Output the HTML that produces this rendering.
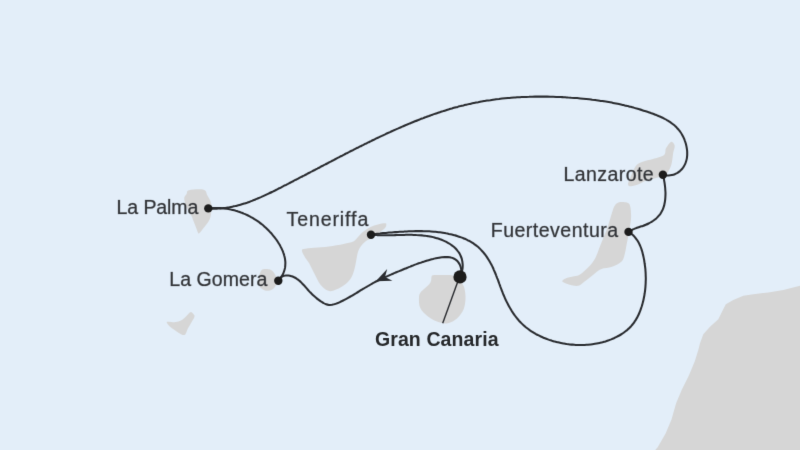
<!DOCTYPE html>
<html><head><meta charset="utf-8"><style>
html,body{margin:0;padding:0;width:800px;height:450px;overflow:hidden;background:#e3eef9;}
svg{display:block;will-change:transform;}
text{font-family:"Liberation Sans",sans-serif;fill:#323438;stroke:#323438;stroke-width:0.7px;stroke-opacity:0.4;paint-order:stroke fill;} text.b{fill:#26282b;stroke:none;}
</style></head><body>
<svg width="800" height="450" viewBox="0 0 800 450">
<defs><filter id="soft" color-interpolation-filters="sRGB" filterUnits="userSpaceOnUse" x="0" y="0" width="800" height="450"><feConvolveMatrix order="3" kernelMatrix="0 1 0 1 8 1 0 1 0" divisor="12" edgeMode="duplicate"/></filter></defs>
<g filter="url(#soft)">
<rect width="800" height="450" fill="#e3eef9"/>
<path d="M189.0,190.3 C191.8,189.6 200.6,188.9 203.7,189.7 C206.8,190.5 206.1,193.0 207.3,195.2 C208.5,197.3 210.3,200.3 211.0,202.6 C211.7,204.9 211.6,206.6 211.5,209.0 C211.4,211.4 211.1,214.8 210.4,217.2 C209.7,219.6 208.6,221.3 207.3,223.3 C206.0,225.3 203.7,227.8 202.4,229.4 C201.1,231.0 200.1,232.5 199.4,233.1 C198.7,233.7 198.7,233.9 198.2,233.1 C197.7,232.3 197.1,230.2 196.3,228.2 C195.5,226.2 194.3,223.0 193.5,221.0 C192.7,219.0 192.5,218.0 191.5,216.0 C190.5,214.0 188.7,211.8 187.5,209.0 C186.3,206.2 184.3,201.5 184.2,199.0 C184.0,196.5 185.8,195.4 186.6,194.0 C187.4,192.6 186.2,191.0 189.0,190.3Z" fill="#d6d6d6"/>
<path d="M263.3,269.3 C264.9,269.0 268.6,269.0 270.5,269.8 C272.4,270.6 273.8,272.3 274.9,274.2 C276.0,276.1 276.9,279.0 277.0,281.0 C277.1,283.0 276.3,284.6 275.5,286.0 C274.7,287.4 273.8,288.6 272.2,289.4 C270.6,290.2 268.1,291.1 266.0,290.7 C263.9,290.2 261.0,288.8 259.8,286.7 C258.6,284.6 258.8,280.3 258.9,277.8 C259.0,275.3 260.0,273.0 260.7,271.6 C261.4,270.2 261.7,269.6 263.3,269.3Z" fill="#d6d6d6"/>
<path d="M191.1,312.0 C192.0,312.2 193.7,314.2 194.2,315.1 C194.7,316.0 194.7,316.1 194.2,317.4 C193.7,318.7 192.1,321.1 191.1,322.9 C190.1,324.7 188.9,326.5 188.0,328.3 C187.1,330.1 186.3,332.7 185.7,333.8 C185.0,334.9 184.9,334.9 184.1,335.0 C183.3,335.1 182.4,334.9 181.0,334.2 C179.6,333.5 177.4,331.9 175.6,330.7 C173.8,329.5 171.5,328.1 170.1,326.8 C168.7,325.5 167.4,323.8 167.0,322.9 C166.6,322.0 166.4,321.8 167.8,321.7 C169.2,321.6 173.4,322.3 175.6,322.1 C177.8,321.9 179.3,321.5 181.0,320.6 C182.7,319.7 184.4,317.9 185.7,316.7 C187.0,315.5 187.9,314.4 188.8,313.6 C189.7,312.8 190.2,311.8 191.1,312.0Z" fill="#d6d6d6"/>
<path d="M385.1,223.2 C386.5,223.2 386.3,223.8 386.3,224.6 C386.3,225.4 386.3,226.6 385.0,228.0 C383.7,229.4 380.8,231.3 378.6,233.0 C376.4,234.7 374.0,236.7 372.0,238.0 C370.0,239.3 368.6,239.3 366.8,240.6 C365.1,241.8 362.9,243.8 361.5,245.5 C360.1,247.2 359.2,248.7 358.5,250.5 C357.8,252.3 357.6,253.2 357.0,256.2 C356.4,259.2 355.6,264.8 354.6,268.5 C353.6,272.2 352.7,275.3 350.9,278.2 C349.1,281.1 346.5,283.6 343.6,285.6 C340.8,287.7 336.5,289.7 333.8,290.5 C331.1,291.3 329.9,291.5 327.7,290.5 C325.4,289.5 322.6,287.3 320.3,284.4 C318.1,281.5 316.0,276.8 314.2,273.3 C312.4,269.8 310.9,266.5 309.3,263.6 C307.7,260.8 305.6,258.3 304.4,256.2 C303.2,254.1 302.1,252.2 302.0,251.0 C301.9,249.8 301.5,249.6 303.5,249.0 C305.5,248.4 310.0,248.1 314.2,247.7 C318.4,247.3 324.0,247.1 328.9,246.5 C333.8,245.9 339.5,244.8 343.6,244.0 C347.7,243.2 350.9,242.8 353.3,241.6 C355.7,240.4 356.6,238.3 358.2,236.7 C359.8,235.1 361.1,233.4 363.1,231.8 C365.2,230.2 368.1,228.1 370.5,226.9 C372.9,225.7 375.4,225.0 377.8,224.4 C380.2,223.8 383.7,223.2 385.1,223.2Z" fill="#d6d6d6"/>
<path d="M433.0,275.2 C434.9,274.9 439.8,275.0 443.0,275.0 C446.2,275.0 449.5,274.6 452.0,275.3 C454.5,276.0 456.2,277.6 458.0,279.0 C459.8,280.4 461.4,282.3 462.5,284.0 C463.6,285.7 464.1,286.5 464.6,289.0 C465.1,291.5 465.7,295.5 465.5,298.9 C465.3,302.3 464.9,306.2 463.5,309.5 C462.1,312.8 459.6,316.2 457.0,318.5 C454.4,320.8 451.0,322.6 448.0,323.2 C445.0,323.8 442.3,323.4 439.0,322.3 C435.7,321.2 431.1,318.9 428.0,316.5 C424.9,314.1 421.7,311.1 420.2,307.8 C418.7,304.6 418.9,299.6 419.0,297.0 C419.1,294.4 419.7,293.8 420.5,292.5 C421.3,291.2 422.6,290.3 424.0,289.0 C425.4,287.7 427.8,285.8 429.0,284.5 C430.2,283.2 430.6,282.2 431.0,281.0 C431.4,279.8 431.2,278.0 431.5,277.0 C431.8,276.0 431.1,275.5 433.0,275.2Z" fill="#d6d6d6"/>
<path d="M618.4,202.4 C620.5,201.7 624.9,201.9 626.8,202.4 C628.7,202.9 629.3,203.3 630.0,205.6 C630.7,207.9 631.1,212.6 631.1,216.1 C631.1,219.6 630.7,222.1 630.0,226.7 C629.3,231.3 627.7,239.0 626.8,243.6 C625.9,248.2 625.6,251.2 624.7,254.2 C623.8,257.2 623.7,259.5 621.6,261.6 C619.5,263.7 615.4,265.6 612.0,266.8 C608.6,268.0 604.3,267.9 601.5,269.0 C598.7,270.1 597.9,271.1 595.1,273.2 C592.3,275.3 587.4,279.5 584.6,281.6 C581.8,283.7 580.7,285.3 578.2,285.8 C575.7,286.3 572.4,285.5 569.8,284.8 C567.2,284.1 563.1,282.7 562.4,281.6 C561.7,280.6 563.7,279.4 565.6,278.5 C567.5,277.6 571.5,277.0 574.0,276.3 C576.5,275.6 577.9,275.8 580.4,274.2 C582.9,272.6 586.3,269.4 588.8,266.8 C591.2,264.2 593.3,261.6 595.1,258.4 C596.9,255.2 598.0,251.3 599.4,247.8 C600.8,244.3 602.2,240.8 603.6,237.3 C605.0,233.8 606.6,230.2 607.8,226.7 C609.0,223.2 609.9,219.4 611.0,216.1 C612.1,212.8 613.0,208.9 614.2,206.6 C615.4,204.3 616.3,203.1 618.4,202.4Z" fill="#d6d6d6"/>
<path d="M671.3,141.7 C672.8,141.3 674.4,143.9 674.7,145.7 C675.0,147.5 673.8,149.6 673.3,152.3 C672.8,155.0 672.5,159.0 672.0,161.7 C671.5,164.4 671.0,166.2 670.0,168.3 C669.0,170.4 668.2,172.4 666.0,174.0 C663.8,175.6 660.2,176.6 657.0,177.7 C653.8,178.8 649.8,179.2 646.7,180.3 C643.7,181.4 641.4,183.3 638.7,184.3 C636.0,185.3 632.5,186.4 630.7,186.3 C628.9,186.2 628.0,185.7 628.0,184.0 C628.0,182.3 629.7,179.1 631.0,176.0 C632.3,172.9 634.0,168.1 636.0,165.7 C638.0,163.3 639.9,162.8 642.7,161.7 C645.5,160.6 649.5,160.1 653.0,159.0 C656.5,157.9 661.8,156.8 664.0,155.0 C666.2,153.2 664.8,150.5 666.0,148.3 C667.2,146.1 669.8,142.1 671.3,141.7Z" fill="#d6d6d6"/>
<path d="M800.0,285.8 L783.3,290.0 L768.3,292.5 L753.3,294.2 L743.3,295.8 L733.3,300.0 L725.8,304.2 L722.5,310.8 L718.3,319.2 L710.0,326.7 L703.3,334.2 L700.0,343.3 L698.3,350.0 L694.8,361.3 L689.0,375.3 L682.0,389.3 L676.1,403.3 L671.5,419.6 L665.6,433.6 L657.5,447.6 L655.2,450.0 L800.0,450.0Z" fill="#d6d6d6"/>
<path d="M208.5,208.4 C209.0,208.4 210.5,208.5 211.5,208.6 C212.5,208.6 213.5,208.6 214.5,208.6 C215.5,208.6 216.5,208.6 217.5,208.6 C218.5,208.5 219.5,208.5 220.5,208.4 C221.5,208.3 222.5,208.2 223.5,208.1 C224.5,208.0 225.5,207.9 226.5,207.7 C227.5,207.6 228.5,207.4 229.5,207.3 C230.5,207.1 231.5,206.9 232.5,206.7 C233.4,206.5 234.4,206.3 235.4,206.1 C236.4,205.8 237.3,205.6 238.3,205.3 C239.3,205.1 240.3,204.8 241.2,204.5 C242.2,204.2 243.1,203.9 244.1,203.6 C245.1,203.3 246.0,203.0 247.0,202.7 C247.9,202.4 248.9,202.0 249.8,201.7 C250.7,201.3 251.7,201.0 252.6,200.6 C253.5,200.2 254.5,199.9 255.4,199.5 C256.3,199.1 257.3,198.7 258.2,198.3 C259.1,197.9 260.0,197.5 261.0,197.1 C261.9,196.7 262.8,196.3 263.7,195.9 C264.6,195.5 265.5,195.1 266.4,194.6 C267.3,194.2 268.2,193.8 269.1,193.3 C270.1,192.9 271.0,192.5 271.9,192.0 C272.8,191.6 273.7,191.1 274.6,190.7 C275.5,190.2 276.4,189.8 277.3,189.3 C278.1,188.9 279.0,188.4 279.9,188.0 C280.8,187.5 281.7,187.1 282.6,186.6 C283.5,186.2 284.4,185.7 285.3,185.2 C286.2,184.8 287.1,184.3 288.0,183.9 C288.9,183.4 289.8,183.0 290.7,182.5 C291.6,182.0 292.5,181.6 293.3,181.1 C294.2,180.7 295.1,180.2 296.0,179.7 C296.9,179.3 297.8,178.8 298.7,178.3 C299.6,177.9 300.5,177.4 301.4,176.9 C302.2,176.5 303.1,176.0 304.0,175.6 C304.9,175.1 305.8,174.6 306.7,174.2 C307.6,173.7 308.5,173.2 309.4,172.8 C310.3,172.3 311.1,171.8 312.0,171.4 C312.9,170.9 313.8,170.4 314.7,170.0 C315.6,169.5 316.5,169.0 317.4,168.6 C318.3,168.1 319.1,167.6 320.0,167.2 C320.9,166.7 321.8,166.2 322.7,165.8 C323.6,165.3 324.5,164.8 325.4,164.4 C326.3,163.9 327.1,163.4 328.0,163.0 C328.9,162.5 329.8,162.0 330.7,161.6 C331.6,161.1 332.5,160.6 333.4,160.2 C334.3,159.7 335.1,159.2 336.0,158.8 C336.9,158.3 337.8,157.8 338.7,157.4 C339.6,156.9 340.5,156.5 341.4,156.0 C342.3,155.5 343.2,155.1 344.1,154.6 C344.9,154.1 345.8,153.7 346.7,153.2 C347.6,152.8 348.5,152.3 349.4,151.9 C350.3,151.4 351.2,150.9 352.1,150.5 C353.0,150.0 353.9,149.6 354.8,149.1 C355.7,148.7 356.6,148.2 357.5,147.8 C358.4,147.3 359.3,146.9 360.2,146.4 C361.1,146.0 362.0,145.5 362.9,145.1 C363.8,144.6 364.7,144.2 365.6,143.7 C366.5,143.3 367.4,142.8 368.3,142.4 C369.2,142.0 370.1,141.5 371.0,141.1 C371.9,140.6 372.8,140.2 373.7,139.8 C374.6,139.3 375.5,138.9 376.4,138.4 C377.3,138.0 378.2,137.6 379.1,137.2 C380.0,136.7 380.9,136.3 381.8,135.9 C382.7,135.4 383.6,135.0 384.6,134.6 C385.5,134.2 386.4,133.7 387.3,133.3 C388.2,132.9 389.1,132.5 390.0,132.1 C390.9,131.6 391.8,131.2 392.8,130.8 C393.7,130.4 394.6,130.0 395.5,129.6 C396.4,129.2 397.3,128.8 398.3,128.4 C399.2,128.0 400.1,127.6 401.0,127.2 C401.9,126.8 402.9,126.4 403.8,126.0 C404.7,125.6 405.6,125.2 406.6,124.8 C407.5,124.4 408.4,124.0 409.3,123.6 C410.3,123.2 411.2,122.9 412.1,122.5 C413.1,122.1 414.0,121.7 414.9,121.3 C415.8,121.0 416.8,120.6 417.7,120.2 C418.6,119.9 419.6,119.5 420.5,119.1 C421.5,118.8 422.4,118.4 423.3,118.1 C424.3,117.7 425.2,117.3 426.1,117.0 C427.1,116.6 428.0,116.3 429.0,116.0 C429.9,115.6 430.9,115.3 431.8,114.9 C432.8,114.6 433.7,114.3 434.7,113.9 C435.6,113.6 436.6,113.3 437.5,113.0 C438.5,112.7 439.4,112.3 440.4,112.0 C441.3,111.7 442.3,111.4 443.2,111.1 C444.2,110.8 445.1,110.5 446.1,110.2 C447.1,109.9 448.0,109.6 449.0,109.3 C449.9,109.0 450.9,108.7 451.9,108.5 C452.8,108.2 453.8,107.9 454.8,107.6 C455.7,107.4 456.7,107.1 457.7,106.9 C458.6,106.6 459.6,106.3 460.6,106.1 C461.6,105.8 462.5,105.6 463.5,105.4 C464.5,105.1 465.5,104.9 466.4,104.7 C467.4,104.4 468.4,104.2 469.4,104.0 C470.4,103.8 471.3,103.5 472.3,103.3 C473.3,103.1 474.3,102.9 475.3,102.7 C476.3,102.5 477.2,102.3 478.2,102.2 C479.2,102.0 480.2,101.8 481.2,101.6 C482.2,101.4 483.2,101.3 484.2,101.1 C485.1,100.9 486.1,100.8 487.1,100.6 C488.1,100.5 489.1,100.3 490.1,100.2 C491.1,100.0 492.1,99.9 493.1,99.7 C494.1,99.6 495.1,99.5 496.1,99.3 C497.1,99.2 498.1,99.1 499.1,99.0 C500.1,98.8 501.1,98.7 502.1,98.6 C503.0,98.5 504.0,98.4 505.0,98.3 C506.0,98.2 507.0,98.1 508.0,98.0 C509.0,97.9 510.0,97.9 511.0,97.8 C512.0,97.7 513.0,97.6 514.0,97.5 C515.1,97.5 516.1,97.4 517.1,97.3 C518.1,97.3 519.1,97.2 520.1,97.2 C521.1,97.1 522.1,97.1 523.1,97.0 C524.1,97.0 525.1,96.9 526.1,96.9 C527.1,96.8 528.1,96.8 529.1,96.8 C530.1,96.7 531.1,96.7 532.1,96.7 C533.1,96.7 534.1,96.7 535.1,96.6 C536.1,96.6 537.1,96.6 538.1,96.6 C539.1,96.6 540.1,96.6 541.1,96.6 C542.1,96.6 543.1,96.6 544.1,96.6 C545.1,96.6 546.2,96.6 547.2,96.6 C548.2,96.7 549.2,96.7 550.2,96.7 C551.2,96.7 552.2,96.8 553.2,96.8 C554.2,96.8 555.2,96.8 556.2,96.9 C557.2,96.9 558.2,97.0 559.2,97.0 C560.2,97.0 561.2,97.1 562.2,97.1 C563.2,97.2 564.2,97.2 565.2,97.3 C566.2,97.4 567.2,97.4 568.2,97.5 C569.2,97.5 570.2,97.6 571.2,97.7 C572.2,97.7 573.2,97.8 574.2,97.9 C575.2,98.0 576.2,98.0 577.2,98.1 C578.2,98.2 579.2,98.3 580.2,98.4 C581.2,98.5 582.2,98.6 583.2,98.7 C584.2,98.8 585.2,98.9 586.2,99.0 C587.2,99.1 588.2,99.2 589.2,99.3 C590.2,99.4 591.2,99.5 592.2,99.7 C593.2,99.8 594.2,99.9 595.2,100.0 C596.2,100.2 597.2,100.3 598.2,100.4 C599.2,100.6 600.2,100.7 601.2,100.9 C602.2,101.0 603.1,101.2 604.1,101.3 C605.1,101.5 606.1,101.7 607.1,101.8 C608.1,102.0 609.1,102.2 610.1,102.3 C611.1,102.5 612.1,102.7 613.0,102.9 C614.0,103.1 615.0,103.3 616.0,103.5 C617.0,103.7 618.0,103.9 618.9,104.1 C619.9,104.3 620.9,104.5 621.9,104.7 C622.9,104.9 623.8,105.2 624.8,105.4 C625.8,105.6 626.8,105.9 627.8,106.1 C628.7,106.3 629.7,106.6 630.7,106.8 C631.6,107.1 632.6,107.4 633.6,107.6 C634.5,107.9 635.5,108.2 636.5,108.4 C637.4,108.7 638.4,109.0 639.4,109.3 C640.3,109.6 641.3,109.9 642.3,110.2 C643.2,110.5 644.2,110.8 645.1,111.1 C646.1,111.4 647.0,111.7 648.0,112.0 C648.9,112.3 649.9,112.7 650.8,113.0 C651.8,113.3 652.7,113.7 653.7,114.0 C654.6,114.4 655.5,114.8 656.5,115.1 C657.4,115.5 658.3,115.9 659.2,116.3 C660.2,116.7 661.1,117.1 662.0,117.5 C662.9,118.0 663.8,118.4 664.7,118.9 C665.6,119.3 666.5,119.8 667.3,120.3 C668.2,120.8 669.0,121.4 669.9,121.9 C670.7,122.5 671.5,123.1 672.3,123.7 C673.1,124.3 673.9,124.9 674.7,125.6 C675.4,126.3 676.1,126.9 676.8,127.7 C677.5,128.4 678.2,129.1 678.8,129.9 C679.5,130.7 680.1,131.5 680.6,132.3 C681.2,133.2 681.7,134.0 682.2,134.9 C682.7,135.8 683.2,136.7 683.6,137.6 C684.0,138.5 684.4,139.4 684.7,140.3 C685.1,141.3 685.4,142.2 685.7,143.2 C686.0,144.2 686.2,145.1 686.4,146.1 C686.6,147.1 686.8,148.1 686.9,149.1 C687.1,150.1 687.2,151.1 687.2,152.1 C687.2,153.1 687.2,154.1 687.2,155.1 C687.1,156.1 687.0,157.1 686.9,158.1 C686.7,159.1 686.5,160.1 686.2,161.0 C685.9,162.0 685.6,163.0 685.2,163.9 C684.8,164.8 684.3,165.7 683.8,166.5 C683.3,167.4 682.7,168.2 682.0,169.0 C681.4,169.7 680.7,170.4 679.9,171.1 C679.1,171.7 678.3,172.3 677.5,172.9 C676.6,173.4 675.7,173.9 674.8,174.2 C673.9,174.6 672.9,174.9 671.9,175.1 C670.9,175.3 669.9,175.5 668.9,175.5 C667.9,175.6 666.9,175.5 665.9,175.4 C664.9,175.2 663.5,174.8 663.0,174.7" fill="none" stroke="#2a2c30" stroke-width="2.05" stroke-linecap="round"/>
<path d="M208.5,208.4 C209.0,208.4 210.5,208.2 211.5,208.1 C212.5,208.1 213.5,208.0 214.5,208.0 C215.5,208.0 216.5,208.0 217.5,208.0 C218.5,208.0 219.5,208.1 220.5,208.1 C221.5,208.2 222.5,208.3 223.5,208.4 C224.5,208.5 225.5,208.6 226.5,208.7 C227.5,208.9 228.4,209.1 229.4,209.2 C230.4,209.4 231.4,209.6 232.4,209.9 C233.3,210.1 234.3,210.3 235.3,210.6 C236.2,210.9 237.2,211.2 238.1,211.5 C239.1,211.8 240.0,212.1 241.0,212.5 C241.9,212.8 242.8,213.2 243.8,213.6 C244.7,213.9 245.6,214.4 246.5,214.8 C247.4,215.2 248.3,215.6 249.2,216.1 C250.1,216.6 251.0,217.0 251.9,217.5 C252.7,218.0 253.6,218.5 254.4,219.1 C255.3,219.6 256.1,220.1 256.9,220.7 C257.8,221.3 258.6,221.9 259.4,222.4 C260.2,223.0 261.0,223.7 261.8,224.3 C262.6,224.9 263.3,225.5 264.1,226.2 C264.8,226.9 265.6,227.5 266.3,228.2 C267.0,228.9 267.7,229.6 268.4,230.3 C269.1,231.0 269.8,231.8 270.5,232.5 C271.2,233.2 271.8,234.0 272.5,234.8 C273.1,235.5 273.8,236.3 274.4,237.1 C275.0,237.9 275.6,238.7 276.2,239.5 C276.7,240.3 277.3,241.1 277.9,242.0 C278.4,242.8 278.9,243.7 279.5,244.5 C280.0,245.4 280.4,246.3 280.9,247.2 C281.4,248.0 281.8,248.9 282.2,249.9 C282.6,250.8 283.0,251.7 283.3,252.6 C283.7,253.6 284.0,254.5 284.2,255.5 C284.5,256.5 284.7,257.4 284.9,258.4 C285.1,259.4 285.2,260.4 285.3,261.4 C285.4,262.4 285.4,263.4 285.3,264.4 C285.3,265.4 285.2,266.4 285.1,267.4 C284.9,268.4 284.7,269.4 284.4,270.3 C284.1,271.3 283.8,272.2 283.4,273.1 C283.0,274.1 282.5,275.0 282.0,275.8 C281.5,276.7 280.9,277.5 280.3,278.3 C279.7,279.1 278.6,280.1 278.3,280.5" fill="none" stroke="#2a2c30" stroke-width="2.05" stroke-linecap="round"/>
<path d="M278.3,280.5 C278.6,280.1 279.4,278.8 280.1,278.1 C280.8,277.4 281.7,276.8 282.5,276.4 C283.4,276.0 284.5,275.7 285.4,275.6 C286.4,275.4 287.4,275.5 288.4,275.6 C289.4,275.7 290.4,275.9 291.4,276.2 C292.3,276.5 293.3,276.8 294.2,277.3 C295.1,277.7 296.0,278.2 296.8,278.8 C297.6,279.3 298.4,279.9 299.2,280.6 C300.0,281.2 300.7,281.9 301.4,282.6 C302.1,283.3 302.8,284.1 303.5,284.8 C304.2,285.5 304.8,286.3 305.5,287.0 C306.1,287.8 306.8,288.6 307.5,289.3 C308.1,290.1 308.8,290.8 309.5,291.6 C310.2,292.3 310.8,293.0 311.6,293.7 C312.3,294.4 313.0,295.1 313.8,295.8 C314.5,296.4 315.3,297.1 316.1,297.7 C316.8,298.4 317.6,299.0 318.4,299.6 C319.2,300.2 320.0,300.8 320.8,301.4 C321.7,301.9 322.5,302.5 323.4,303.0 C324.2,303.5 325.1,304.0 326.1,304.3 C327.0,304.6 328.0,304.8 329.0,304.9 C330.0,305.0 331.0,304.9 332.0,304.8 C333.0,304.6 334.0,304.4 334.9,304.1 C335.9,303.8 336.8,303.4 337.8,303.1 C338.7,302.7 339.6,302.3 340.5,301.8 C341.4,301.4 342.3,301.0 343.2,300.5 C344.1,300.1 345.0,299.6 345.9,299.1 C346.8,298.7 347.7,298.2 348.5,297.7 C349.4,297.2 350.3,296.7 351.1,296.2 C352.0,295.7 352.9,295.2 353.7,294.6 C354.6,294.1 355.4,293.6 356.3,293.1 C357.2,292.5 358.0,292.0 358.9,291.5 C359.7,291.0 360.6,290.4 361.4,289.9 C362.3,289.4 363.1,288.8 364.0,288.3 C364.8,287.8 365.7,287.3 366.6,286.8 C367.4,286.3 368.3,285.8 369.2,285.3 C370.0,284.8 370.9,284.3 371.8,283.8 C372.7,283.3 373.6,282.8 374.4,282.4 C375.3,281.9 376.2,281.4 377.1,281.0 C378.0,280.5 378.9,280.1 379.8,279.7 C380.7,279.2 381.6,278.8 382.5,278.4 C383.4,277.9 384.3,277.5 385.3,277.1 C386.2,276.7 387.1,276.3 388.0,275.9 C388.9,275.4 389.8,275.0 390.8,274.6 C391.7,274.2 392.6,273.8 393.5,273.5 C394.4,273.1 395.4,272.7 396.3,272.3 C397.2,271.9 398.1,271.5 399.1,271.1 C400.0,270.7 400.9,270.4 401.9,270.0 C402.8,269.6 403.7,269.2 404.6,268.8 C405.6,268.5 406.5,268.1 407.4,267.7 C408.4,267.3 409.3,266.9 410.2,266.6 C411.2,266.2 412.1,265.8 413.0,265.5 C414.0,265.1 414.9,264.7 415.8,264.4 C416.8,264.0 417.7,263.7 418.7,263.3 C419.6,263.0 420.5,262.7 421.5,262.4 C422.4,262.0 423.4,261.7 424.4,261.4 C425.3,261.1 426.3,260.8 427.2,260.5 C428.2,260.2 429.2,260.0 430.1,259.7 C431.1,259.5 432.1,259.2 433.0,259.0 C434.0,258.7 435.0,258.5 436.0,258.3 C437.0,258.1 437.9,257.9 438.9,257.7 C439.9,257.6 440.9,257.4 441.9,257.3 C442.9,257.2 443.9,257.1 444.9,257.1 C445.9,257.1 446.9,257.1 447.9,257.1 C448.9,257.2 449.9,257.3 450.9,257.6 C451.9,257.8 452.8,258.1 453.7,258.5 C454.6,258.9 455.5,259.5 456.3,260.1 C457.1,260.7 457.8,261.5 458.4,262.3 C459.0,263.1 459.5,263.9 459.9,264.8 C460.3,265.7 460.7,266.7 460.9,267.7 C461.1,268.7 461.2,269.7 461.3,270.7 C461.3,271.7 461.2,272.7 461.0,273.7 C460.8,274.6 460.2,276.0 460.0,276.5" fill="none" stroke="#2a2c30" stroke-width="2.05" stroke-linecap="round"/>
<path d="M371.0,234.6 C371.5,234.6 373.0,234.8 374.0,234.9 C375.0,235.0 376.0,235.0 377.0,235.1 C378.0,235.1 379.1,235.2 380.1,235.2 C381.1,235.2 382.1,235.2 383.1,235.3 C384.1,235.3 385.1,235.3 386.1,235.3 C387.1,235.3 388.1,235.3 389.2,235.2 C390.2,235.2 391.2,235.2 392.2,235.2 C393.2,235.2 394.2,235.1 395.2,235.1 C396.2,235.1 397.2,235.0 398.2,235.0 C399.2,235.0 400.3,235.0 401.3,234.9 C402.3,234.9 403.3,234.9 404.3,234.9 C405.3,234.9 406.3,234.8 407.3,234.8 C408.3,234.8 409.3,234.8 410.4,234.8 C411.4,234.8 412.4,234.9 413.4,234.9 C414.4,234.9 415.4,234.9 416.4,235.0 C417.4,235.0 418.4,235.1 419.4,235.2 C420.4,235.2 421.4,235.3 422.5,235.4 C423.5,235.5 424.5,235.6 425.5,235.8 C426.5,235.9 427.5,236.1 428.5,236.2 C429.5,236.4 430.4,236.6 431.4,236.8 C432.4,237.0 433.4,237.2 434.4,237.5 C435.4,237.8 436.3,238.0 437.3,238.3 C438.3,238.6 439.2,238.9 440.2,239.3 C441.1,239.6 442.1,240.0 443.0,240.4 C443.9,240.8 444.8,241.2 445.8,241.6 C446.7,242.1 447.5,242.6 448.4,243.1 C449.3,243.6 450.2,244.1 451.0,244.7 C451.8,245.3 452.6,245.9 453.4,246.5 C454.2,247.1 454.9,247.8 455.6,248.5 C456.3,249.3 457.0,250.0 457.6,250.8 C458.3,251.6 458.8,252.4 459.4,253.3 C459.9,254.2 460.3,255.1 460.7,256.0 C461.1,256.9 461.5,257.9 461.8,258.9 C462.0,259.8 462.2,260.8 462.4,261.8 C462.5,262.8 462.6,263.8 462.7,264.8 C462.7,265.8 462.7,266.9 462.6,267.9 C462.5,268.9 462.3,269.9 462.1,270.8 C461.9,271.8 461.6,272.8 461.3,273.8 C460.9,274.7 460.2,276.0 460.0,276.5" fill="none" stroke="#2a2c30" stroke-width="2.05" stroke-linecap="round"/>
<path d="M371.0,234.6 C371.5,234.5 373.0,234.3 374.0,234.2 C375.0,234.1 376.0,233.9 377.0,233.8 C378.0,233.7 379.0,233.6 380.0,233.5 C381.0,233.3 382.0,233.2 383.0,233.1 C383.9,233.0 384.9,232.9 385.9,232.9 C386.9,232.8 387.9,232.7 388.9,232.6 C389.9,232.5 390.9,232.4 391.9,232.4 C392.9,232.3 393.9,232.2 395.0,232.1 C396.0,232.1 397.0,232.0 398.0,231.9 C399.0,231.9 400.0,231.8 401.0,231.8 C402.0,231.7 403.0,231.6 404.0,231.6 C405.0,231.5 406.0,231.5 407.0,231.4 C408.0,231.4 409.0,231.3 410.0,231.3 C411.0,231.3 412.0,231.2 413.0,231.2 C414.0,231.2 415.0,231.2 416.0,231.1 C417.0,231.1 418.0,231.1 419.0,231.1 C420.0,231.1 421.0,231.1 422.0,231.1 C423.0,231.1 424.0,231.2 425.0,231.2 C426.0,231.2 427.0,231.2 428.0,231.3 C429.0,231.3 430.0,231.4 431.0,231.4 C432.0,231.5 433.0,231.6 434.0,231.7 C435.0,231.8 436.0,231.9 437.0,232.0 C438.0,232.1 439.0,232.2 440.0,232.3 C441.0,232.4 442.0,232.6 443.0,232.7 C444.0,232.9 445.0,233.1 446.0,233.3 C447.0,233.4 447.9,233.6 448.9,233.9 C449.9,234.1 450.9,234.3 451.9,234.5 C452.8,234.8 453.8,235.0 454.8,235.3 C455.7,235.6 456.7,235.9 457.7,236.2 C458.6,236.5 459.6,236.8 460.5,237.1 C461.4,237.5 462.4,237.8 463.3,238.2 C464.2,238.6 465.2,239.0 466.1,239.4 C467.0,239.8 467.9,240.3 468.8,240.7 C469.7,241.2 470.5,241.7 471.4,242.2 C472.3,242.7 473.1,243.3 473.9,243.8 C474.8,244.4 475.6,245.0 476.4,245.6 C477.2,246.2 477.9,246.9 478.7,247.5 C479.4,248.2 480.1,248.9 480.8,249.6 C481.5,250.3 482.2,251.1 482.9,251.8 C483.5,252.6 484.2,253.4 484.8,254.2 C485.4,255.0 486.0,255.8 486.6,256.6 C487.1,257.4 487.7,258.3 488.2,259.1 C488.8,260.0 489.3,260.8 489.8,261.7 C490.3,262.6 490.8,263.4 491.2,264.3 C491.7,265.2 492.1,266.1 492.6,267.0 C493.0,267.9 493.4,268.8 493.8,269.8 C494.2,270.7 494.6,271.6 495.0,272.5 C495.4,273.4 495.8,274.4 496.1,275.3 C496.5,276.2 496.9,277.2 497.2,278.1 C497.6,279.1 497.9,280.0 498.3,280.9 C498.6,281.9 499.0,282.8 499.3,283.8 C499.6,284.7 500.0,285.7 500.3,286.6 C500.7,287.5 501.0,288.5 501.4,289.4 C501.7,290.4 502.1,291.3 502.5,292.2 C502.8,293.2 503.2,294.1 503.6,295.0 C504.0,295.9 504.4,296.9 504.8,297.8 C505.2,298.7 505.6,299.6 506.0,300.5 C506.5,301.4 506.9,302.3 507.4,303.2 C507.8,304.1 508.3,305.0 508.8,305.9 C509.2,306.8 509.7,307.6 510.3,308.5 C510.8,309.4 511.3,310.2 511.8,311.1 C512.4,311.9 512.9,312.8 513.5,313.6 C514.0,314.4 514.6,315.2 515.2,316.0 C515.8,316.8 516.4,317.6 517.1,318.4 C517.7,319.2 518.4,320.0 519.0,320.7 C519.7,321.4 520.4,322.2 521.1,322.9 C521.8,323.6 522.5,324.3 523.3,325.0 C524.0,325.7 524.8,326.3 525.5,327.0 C526.3,327.6 527.1,328.2 527.9,328.8 C528.7,329.4 529.5,330.0 530.3,330.6 C531.2,331.2 532.0,331.7 532.8,332.2 C533.7,332.8 534.6,333.3 535.4,333.8 C536.3,334.3 537.2,334.7 538.1,335.2 C539.0,335.7 539.9,336.1 540.8,336.5 C541.7,336.9 542.6,337.3 543.5,337.7 C544.5,338.1 545.4,338.5 546.3,338.8 C547.3,339.2 548.2,339.5 549.2,339.9 C550.1,340.2 551.1,340.5 552.0,340.8 C553.0,341.1 554.0,341.3 554.9,341.6 C555.9,341.8 556.9,342.1 557.9,342.3 C558.8,342.5 559.8,342.8 560.8,343.0 C561.8,343.2 562.8,343.3 563.8,343.5 C564.8,343.7 565.7,343.8 566.7,344.0 C567.7,344.1 568.7,344.2 569.7,344.4 C570.7,344.5 571.7,344.6 572.7,344.6 C573.7,344.7 574.7,344.8 575.7,344.9 C576.7,344.9 577.7,344.9 578.7,345.0 C579.7,345.0 580.7,345.0 581.7,345.0 C582.7,345.0 583.8,344.9 584.8,344.9 C585.8,344.8 586.8,344.8 587.8,344.7 C588.8,344.6 589.8,344.5 590.8,344.4 C591.8,344.3 592.7,344.2 593.7,344.0 C594.7,343.9 595.7,343.7 596.7,343.5 C597.7,343.3 598.7,343.1 599.7,342.9 C600.6,342.7 601.6,342.5 602.6,342.2 C603.5,341.9 604.5,341.7 605.5,341.4 C606.4,341.1 607.4,340.8 608.3,340.4 C609.3,340.1 610.2,339.8 611.2,339.4 C612.1,339.0 613.0,338.6 613.9,338.2 C614.8,337.8 615.7,337.4 616.6,336.9 C617.5,336.5 618.4,336.0 619.3,335.5 C620.2,335.0 621.0,334.5 621.9,333.9 C622.7,333.4 623.5,332.8 624.3,332.2 C625.1,331.6 625.9,331.0 626.7,330.4 C627.5,329.7 628.2,329.0 629.0,328.4 C629.7,327.7 630.4,326.9 631.1,326.2 C631.7,325.5 632.4,324.7 633.0,323.9 C633.6,323.1 634.2,322.3 634.7,321.4 C635.3,320.6 635.8,319.8 636.3,318.9 C636.9,318.0 637.3,317.2 637.8,316.3 C638.2,315.4 638.7,314.5 639.1,313.5 C639.5,312.6 639.9,311.7 640.2,310.8 C640.6,309.8 640.9,308.9 641.2,307.9 C641.6,307.0 641.9,306.0 642.1,305.1 C642.4,304.1 642.7,303.1 642.9,302.1 C643.2,301.2 643.4,300.2 643.6,299.2 C643.8,298.2 644.0,297.2 644.2,296.3 C644.4,295.3 644.5,294.3 644.7,293.3 C644.8,292.3 645.0,291.3 645.1,290.3 C645.2,289.3 645.3,288.3 645.4,287.3 C645.5,286.3 645.5,285.3 645.6,284.3 C645.7,283.3 645.7,282.3 645.7,281.3 C645.8,280.3 645.8,279.3 645.8,278.3 C645.8,277.3 645.7,276.3 645.7,275.3 C645.7,274.3 645.6,273.3 645.6,272.3 C645.5,271.3 645.4,270.3 645.4,269.3 C645.3,268.3 645.2,267.3 645.0,266.3 C644.9,265.3 644.8,264.3 644.6,263.3 C644.5,262.3 644.3,261.3 644.2,260.3 C644.0,259.3 643.8,258.3 643.6,257.4 C643.4,256.4 643.2,255.4 642.9,254.4 C642.7,253.5 642.5,252.5 642.2,251.5 C641.9,250.6 641.6,249.6 641.3,248.7 C640.9,247.7 640.6,246.8 640.2,245.8 C639.8,244.9 639.3,244.0 638.9,243.1 C638.4,242.2 637.9,241.4 637.4,240.5 C636.8,239.7 636.2,238.9 635.6,238.1 C635.0,237.3 634.3,236.5 633.6,235.8 C632.9,235.1 632.1,234.5 631.4,233.8 C630.6,233.2 629.3,232.4 628.9,232.1" fill="none" stroke="#2a2c30" stroke-width="2.05" stroke-linecap="round"/>
<path d="M663.0,174.8 C663.1,175.3 663.4,176.8 663.7,177.8 C663.9,178.8 664.0,179.8 664.2,180.9 C664.4,181.9 664.6,182.9 664.7,183.9 C664.8,184.9 665.0,185.9 665.1,187.0 C665.2,188.0 665.3,189.0 665.3,190.0 C665.4,191.1 665.5,192.1 665.5,193.1 C665.5,194.2 665.5,195.2 665.4,196.2 C665.4,197.2 665.3,198.3 665.2,199.3 C665.1,200.3 665.0,201.3 664.8,202.3 C664.6,203.4 664.4,204.4 664.2,205.4 C663.9,206.4 663.6,207.3 663.2,208.3 C662.8,209.3 662.4,210.2 662.0,211.1 C661.5,212.0 660.9,212.9 660.4,213.8 C659.8,214.6 659.1,215.4 658.4,216.2 C657.8,216.9 657.0,217.7 656.3,218.4 C655.5,219.1 654.7,219.7 653.9,220.3 C653.1,220.9 652.2,221.5 651.3,222.0 C650.4,222.6 649.5,223.1 648.6,223.5 C647.7,224.0 646.8,224.4 645.8,224.8 C644.9,225.2 643.9,225.6 642.9,225.9 C641.9,226.2 641.0,226.5 640.0,226.8 C639.0,227.2 638.0,227.5 637.0,227.8 C636.1,228.2 635.1,228.5 634.2,228.9 C633.2,229.3 632.3,229.8 631.4,230.3 C630.5,230.8 629.3,231.8 628.9,232.1" fill="none" stroke="#2a2c30" stroke-width="2.05" stroke-linecap="round"/>
<path d="M458,281 L442.7,323.3" stroke="#2a2c30" stroke-width="1.4"/>
<path d="M375.8,281.3 L387.2,268.9 L385,276.9 L392.4,280.8Z" fill="#2a2c30"/>
<circle cx="208.3" cy="208.4" r="4.2" fill="#1c1c1c"/>
<circle cx="278.3" cy="280.7" r="4.2" fill="#1c1c1c"/>
<circle cx="371" cy="234.7" r="4.2" fill="#1c1c1c"/>
<circle cx="628.5" cy="231.9" r="4.2" fill="#1c1c1c"/>
<circle cx="662.9" cy="174.7" r="4.2" fill="#1c1c1c"/>
<circle cx="460" cy="276.9" r="6.6" fill="#1c1c1c"/>
<text x="116.6" y="214.0" font-size="19.5" font-weight="400" letter-spacing="-0.1">La Palma</text>
<text x="169.3" y="285.7" font-size="19.5" font-weight="400" letter-spacing="0.06">La Gomera</text>
<text x="286.6" y="225.8" font-size="19.5" font-weight="400" letter-spacing="0.9">Teneriffa</text>
<text x="490.8" y="236.6" font-size="19.5" font-weight="400" letter-spacing="0.49">Fuerteventura</text>
<text x="563.4" y="180.5" font-size="19.5" font-weight="400" letter-spacing="0.44">Lanzarote</text>
<text x="374.9" y="346.0" font-size="19.5" font-weight="700" letter-spacing="0.12" class="b">Gran Canaria</text>
</g>
</svg>
</body></html>
